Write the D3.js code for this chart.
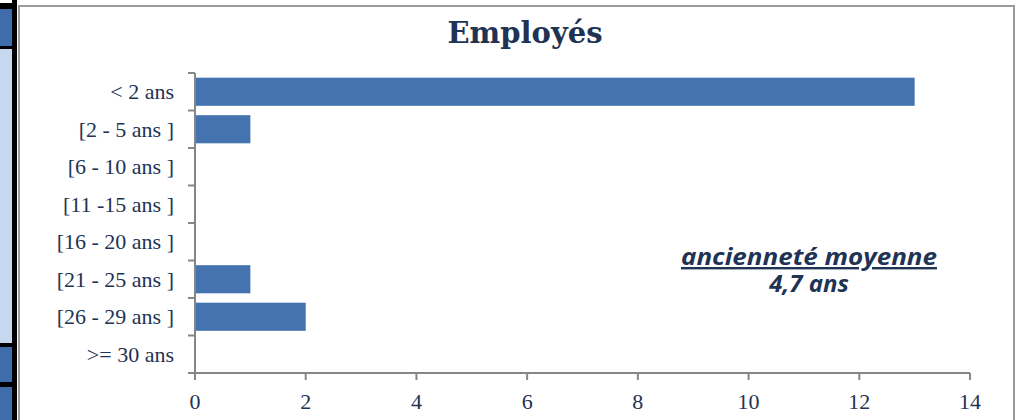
<!DOCTYPE html>
<html><head><meta charset="utf-8">
<script src="https://cdn.jsdelivr.net/npm/d3@7"></script>
<style>body{margin:0;background:#fff;}svg{display:block;}</style>
</head><body>
<svg id="c" width="1020" height="420"></svg>
<script>
const categories = ["< 2 ans","[2 - 5 ans ]","[6 - 10 ans ]","[11 -15 ans ]","[16 - 20 ans ]","[21 - 25 ans ]","[26 - 29 ans ]",">= 30 ans"];
const values = [13, 1, 0, 0, 0, 1, 2, 0];
const xTicks = [0, 2, 4, 6, 8, 10, 12, 14];
const title = "Employés";
const noteLines = ["ancienneté moyenne", "4,7 ans"];

const svg = d3.select("#c");
const navy = "#1F3354";
const serif = "'Liberation Serif', 'DejaVu Serif', serif";

// left cropped table strip
svg.append("rect").attr("x",0).attr("y",0).attr("width",17).attr("height",420).attr("fill","#000");
svg.append("rect").attr("x",0).attr("y",0).attr("width",12).attr("height",3).attr("fill","#fff");
svg.append("rect").attr("x",0).attr("y",9).attr("width",12).attr("height",37).attr("fill","#3F6DAC");
svg.append("rect").attr("x",0).attr("y",49).attr("width",12).attr("height",294).attr("fill","#C6D9F0");
svg.append("rect").attr("x",0).attr("y",347).attr("width",12).attr("height",35).attr("fill","#3F6DAC");
svg.append("rect").attr("x",0).attr("y",387).attr("width",12).attr("height",33).attr("fill","#3F6DAC");

// chart frame
svg.append("rect").attr("x",19).attr("y",6).attr("width",995).attr("height",430)
  .attr("fill","#fff").attr("stroke","#9a9a9a").attr("stroke-width",2);

const x = d3.scaleLinear().domain([0,14]).range([195,970]);
const y = d3.scaleBand().domain(categories).range([73,373]).paddingInner(0.25).paddingOuter(0.125);

// bars
svg.append("g").selectAll("rect").data(values).join("rect")
  .attr("x", x(0)).attr("y",(d,i)=>y(categories[i]))
  .attr("width", d=>x(d)-x(0)).attr("height", y.bandwidth())
  .attr("fill","#4473B0");

// y axis
const yAxisG = svg.append("g");
yAxisG.append("line").attr("x1",x(0)).attr("x2",x(0)).attr("y1",73).attr("y2",374)
  .attr("stroke","#868686").attr("stroke-width",2);
const step = (y.range()[1]-y.range()[0]) / categories.length;
yAxisG.selectAll("line.t").data(d3.range(categories.length+1)).join("line").attr("class","t")
  .attr("x1",x(0)-7).attr("x2",x(0))
  .attr("y1",i=>y.range()[0]+i*step).attr("y2",i=>y.range()[0]+i*step)
  .attr("stroke","#868686").attr("stroke-width",2);
yAxisG.selectAll("text").data(categories).join("text")
  .attr("x",174).attr("y",d=>y(d)+y.bandwidth()/2).attr("dy","0.35em")
  .attr("text-anchor","end").attr("font-family",serif)
  .attr("font-size",22).attr("fill",navy).text(d=>d);

// x axis
const xAxisG = svg.append("g");
xAxisG.append("line").attr("x1",x(0)-7).attr("x2",x(14)).attr("y1",373).attr("y2",373)
  .attr("stroke","#868686").attr("stroke-width",2);
xAxisG.selectAll("line.t").data(xTicks).join("line").attr("class","t")
  .attr("x1",d=>x(d)).attr("x2",d=>x(d)).attr("y1",373).attr("y2",380)
  .attr("stroke","#868686").attr("stroke-width",2);
xAxisG.selectAll("text").data(xTicks).join("text")
  .attr("x",d=>x(d)).attr("y",409).attr("text-anchor","middle")
  .attr("font-family",serif)
  .attr("font-size",22).attr("fill",navy).text(d=>d);

// title
svg.append("text").attr("x",525).attr("y",43).attr("text-anchor","middle")
  .attr("font-family","'DejaVu Serif', serif").attr("font-weight","bold")
  .attr("font-size",29).attr("fill",navy).text(title);

// note (one text block, two lines)
const note = svg.append("text").attr("text-anchor","middle")
  .attr("font-family","'Open Sans', Lato, sans-serif").attr("font-weight","bold").attr("font-style","italic")
  .attr("font-size",24).attr("fill",navy);
note.append("tspan").attr("x",809).attr("y",265).attr("text-decoration","underline")
  .attr("textLength",256).attr("lengthAdjust","spacingAndGlyphs").text(noteLines[0]);
note.append("tspan").attr("x",809).attr("y",292).text(noteLines[1]);
</script>
</body></html>
